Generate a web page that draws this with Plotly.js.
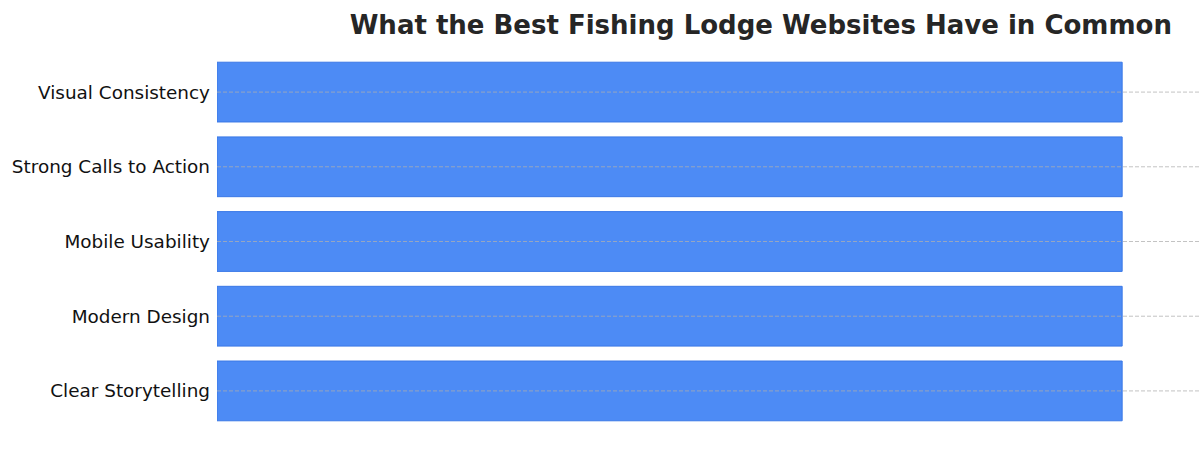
<!DOCTYPE html>
<html>
<head>
<meta charset="utf-8">
<script src="https://cdn.plot.ly/plotly-3.0.1.min.js"></script>
<style>
  html, body { margin: 0; padding: 0; background: #fff; }
  #chart { width: 1200px; height: 450px; }
</style>
</head>
<body>
<div id="chart"></div>
<script>
// categories, bottom to top
const features = ['Clear Storytelling', 'Modern Design', 'Mobile Usability', 'Strong Calls to Action', 'Visual Consistency'];
// every feature is shared by the best sites, so all bars are equal
const scores = [10, 10, 10, 10, 10];
const chartTitle = 'What the Best Fishing Lodge Websites Have in Common';

const trace = {
  type: 'bar',
  orientation: 'h',
  x: scores,
  y: features,
  width: 0.8,
  marker: {
    color: '#4d8bf5',
    line: { color: '#3a78e6', width: 1 }
  },
  hoverinfo: 'y+x'
};

// dashed grid lines sit over the bars in the original
const gridShapes = features.map(f => ({
  type: 'line',
  xref: 'paper', x0: 0, x1: 1,
  yref: 'y', y0: f, y1: f,
  layer: 'above',
  line: { color: 'rgba(175,175,175,0.75)', width: 1, dash: '4px,2px' }
}));

const layout = {
  width: 1200,
  height: 450,
  margin: { l: 217, r: 0, t: 51, b: 18 },
  paper_bgcolor: '#ffffff',
  plot_bgcolor: '#ffffff',
  font: { family: 'DejaVu Sans, sans-serif', color: '#111' },
  title: {
    text: '<b>' + chartTitle + '</b>',
    font: { family: 'DejaVu Sans, sans-serif', size: 26, color: '#262626' },
    xref: 'container', x: 0.634, xanchor: 'center',
    yref: 'container', y: 0.945, yanchor: 'middle'
  },
  xaxis: {
    range: [0, 10.86],
    visible: false,
    showgrid: false,
    zeroline: false
  },
  yaxis: {
    type: 'category',
    range: [-0.55, 4.55],
    showgrid: false,
    zeroline: false,
    showline: false,
    ticks: '',
    ticklabelstandoff: 6,
    tickfont: { family: 'DejaVu Sans, sans-serif', size: 18.4, color: '#111' }
  },
  shapes: gridShapes,
  showlegend: false
};

Plotly.newPlot('chart', [trace], layout, { displayModeBar: false, staticPlot: true });
</script>
</body>
</html>
